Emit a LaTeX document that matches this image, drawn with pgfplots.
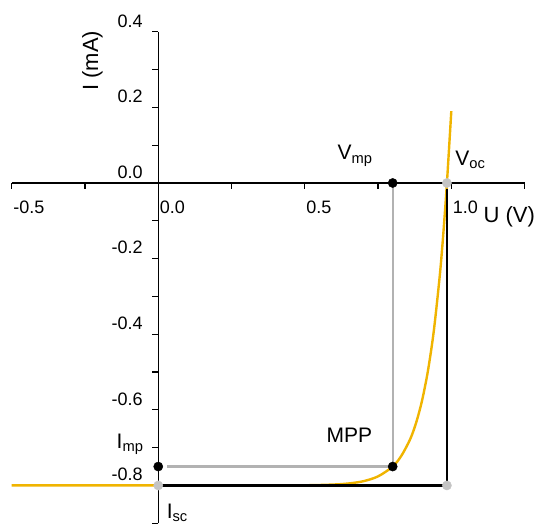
\documentclass[border=0pt]{standalone}
\usepackage{pgfplots}
\pgfplotsset{compat=1.18}
\usepackage{fontspec}
\setmainfont{Liberation Sans}
\definecolor{ivcurve}{RGB}{240,180,0}
\definecolor{guide}{RGB}{178,178,178}
\definecolor{dotgray}{RGB}{196,196,196}

\begin{document}
\begin{tikzpicture}
\begin{axis}[
  scale only axis,
  width=512.75pt, height=491.4pt,
  xmin=-0.5, xmax=1.25, ymin=-0.9, ymax=0.4,
  axis lines=middle,
  axis line style={-, line width=1.3pt},
  hide obscured x ticks=false,
  hide obscured y ticks=false,
  clip=false,
  xtick={-0.5,0,0.5,1},
  minor xtick={-0.25,0.25,0.75,1.25},
  ytick={-0.8,-0.6,-0.4,-0.2,0,0.2,0.4},
  minor ytick={-0.9,-0.7,-0.5,-0.3,-0.1,0.1,0.3},
  tick align=outside,
  major tick length=6pt, minor tick length=6pt,
  every tick/.style={black, line width=1.1pt},
  /pgf/number format/assume math mode=true,
  /pgf/number format/.cd, fixed, zerofill, precision=1, /tikz/.cd,
  tick label style={font=\fontsize{18}{20}\selectfont},
  xticklabel style={anchor=north west, xshift=-2pt, yshift=-8pt},
  yticklabel style={anchor=south east, xshift=-6pt, yshift=1pt},
]
% I-V curve of the cell
\addplot[ivcurve, line width=2.4pt, smooth] coordinates {
  (-0.5,-0.8) (0.0,-0.8) (0.3,-0.8) (0.5,-0.7995) (0.6,-0.7975)
  (0.65,-0.7947) (0.7,-0.7888) (0.75,-0.776) (0.8,-0.75)
  (0.83,-0.721) (0.86,-0.677) (0.88,-0.634) (0.9,-0.576)
  (0.92,-0.498) (0.94,-0.393) (0.96,-0.250) (0.97,-0.161)
  (0.98,-0.058) (0.985,0.0) (0.99,0.062) (1.0,0.19)
};
% guide lines to the maximum power point
\addplot[guide, line width=2.2pt] coordinates {(0.03,-0.75) (0.8,-0.75)};
\addplot[guide, line width=2.2pt] coordinates {(0.8,0) (0.8,-0.75)};
% short-circuit / open-circuit rectangle
\addplot[black, line width=2.8pt] coordinates {(0.0,-0.8) (0.985,-0.8)};
\addplot[black, line width=2.8pt] coordinates {(0.985,-0.015) (0.985,-0.8)};
% points
\addplot[only marks, mark=*, mark size=4.6pt, black] coordinates {
  (0.8,0) (0.8,-0.75) (0,-0.75)};
\addplot[only marks, mark=*, mark size=4.6pt, dotgray, mark options={draw=dotgray}] coordinates {
  (0.985,0) (0.985,-0.8) (0,-0.8)};

\node[font=\fontsize{22}{24}\selectfont] at (axis cs:1.198,-0.09) {U (V)};
\node[font=\fontsize{22}{24}\selectfont, rotate=90] at (axis cs:-0.225,0.323) {I (mA)};
\node[font=\fontsize{21}{24}\selectfont] at (axis cs:0.672,0.072) {V\textsubscript{mp}};
\node[font=\fontsize{21}{24}\selectfont] at (axis cs:1.065,0.062) {V\textsubscript{oc}};
\node[font=\fontsize{21}{24}\selectfont] at (axis cs:0.652,-0.667) {MPP};
\node[font=\fontsize{21}{24}\selectfont] at (axis cs:-0.096,-0.69) {I\textsubscript{mp}};
\node[font=\fontsize{21}{24}\selectfont] at (axis cs:0.065,-0.872) {I\textsubscript{sc}};

\coordinate (bl) at (axis cs:-0.540,-0.905);
\coordinate (tr) at (axis cs:1.289,0.484);
\end{axis}
\pgfresetboundingbox
\useasboundingbox (bl) rectangle (tr);
\end{tikzpicture}
\end{document}
